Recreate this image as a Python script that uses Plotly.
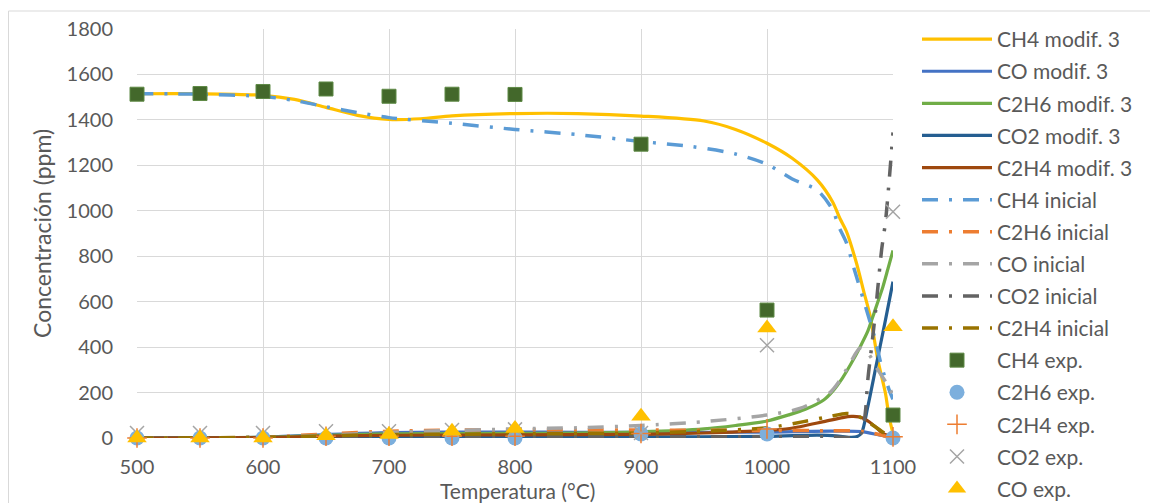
import plotly.graph_objects as go

# ---------------- data ----------------
# model curves "modif. 3"
T_ch4_m = [500, 550, 600, 625, 650, 675, 700, 725, 750, 800, 850, 900, 950, 975, 1000, 1020, 1040, 1052, 1058, 1063, 1071, 1077, 1082, 1088, 1094, 1097, 1100]
ch4_m   = [1515, 1515, 1508, 1490, 1455, 1420, 1402, 1405, 1418, 1428, 1428, 1417, 1395, 1358, 1297, 1231, 1135, 1040, 965, 910, 770, 640, 534, 343, 197, 90, 20]

T_co_m = [500, 550, 600, 650, 700, 750, 800, 850, 900, 950, 1000, 1050, 1075, 1090, 1100]
co_m   = [0, 1, 4, 15, 24, 26, 26, 25, 25, 25, 26, 30, 28, 12, 3]

T_c2h6_m = [500, 600, 650, 700, 800, 850, 900, 950, 975, 1000, 1018, 1030, 1045, 1052, 1060, 1067, 1074, 1080, 1084, 1088, 1092, 1096, 1100]
c2h6_m   = [0, 3, 12, 18, 20, 22, 27, 40, 55, 75, 103, 125, 167, 205, 265, 330, 402, 470, 534, 600, 666, 745, 825]

T_co2_m = [500, 600, 700, 800, 900, 1000, 1040, 1055, 1065, 1071, 1075, 1080, 1087, 1094, 1100]
co2_m   = [0, 1, 4, 5, 5, 7, 13, 10, 3, 5, 22, 138, 329, 519, 688]

T_c2h4_m = [500, 600, 650, 700, 800, 900, 950, 1000, 1018, 1045, 1060, 1067, 1073, 1079, 1086, 1092, 1100]
c2h4_m   = [0, 2, 8, 12, 14, 16, 22, 33, 42, 72, 90, 95, 93, 79, 50, 20, 5]

# initial model curves
T_ch4_i = [500, 550, 600, 625, 650, 675, 700, 750, 800, 850, 900, 940, 975, 1000, 1020, 1040, 1052, 1057, 1063, 1069, 1079, 1086, 1091, 1097, 1100]
ch4_i   = [1515, 1513, 1503, 1485, 1458, 1432, 1410, 1385, 1358, 1335, 1305, 1283, 1250, 1205, 1140, 1090, 1005, 930, 860, 747, 563, 431, 314, 211, 170]

T_c2h6_i = [500, 600, 650, 700, 750, 800, 850, 900, 950, 1000, 1050, 1075, 1085, 1100]
c2h6_i   = [0, 3, 18, 30, 35, 36, 36, 35, 34, 33, 32, 30, 20, 0]

T_co_i = [500, 600, 650, 700, 750, 800, 850, 900, 950, 1000, 1026, 1050, 1058, 1066, 1074, 1080, 1088, 1095, 1100]
co_i   = [0, 3, 12, 25, 33, 40, 45, 55, 72, 101, 130, 200, 255, 330, 396, 375, 300, 240, 190]

T_co2_i = [500, 600, 700, 800, 900, 1000, 1050, 1068, 1075, 1078, 1080, 1083, 1086, 1091, 1094, 1100]
co2_i   = [0, 2, 4, 5, 5, 5, 5, 3, 22, 110, 255, 400, 550, 830, 950, 1345]

T_c2h4_i = [500, 600, 650, 700, 800, 900, 950, 1000, 1029, 1050, 1063, 1070, 1082, 1095, 1100]
c2h4_i   = [0, 3, 10, 15, 18, 22, 30, 45, 72, 95, 108, 103, 64, 15, 5]

# experimental points
T_exp    = [500, 550, 600, 650, 700, 750, 800, 900, 1000, 1100]
ch4_exp  = [1513, 1516, 1525, 1536, 1504, 1513, 1512, 1293, 563, 101]
c2h6_exp = [0, 0, 0, 0, 0, 0, 0, 18, 18, 0]
c2h4_exp = [0, 0, 0, 8, 8, 8, 8, 20, 40, 5]
co2_exp  = [22, 22, 22, 30, 30, 35, 38, 22, 408, 996]
co_exp   = [0, 0, 0, 10, 15, 30, 42, 96, 484, 490]

x_ticks = [500, 600, 700, 800, 900, 1000, 1100]
y_ticks = [0, 200, 400, 600, 800, 1000, 1200, 1400, 1600, 1800]

# ---------------- figure ----------------
FONT = "Lato"
TXT = "#595959"
DASHDOT = "16px,11px,3px,11px"

fig = go.Figure()

def line(x, y, name, color, dash=None, width=3.2):
    fig.add_trace(go.Scatter(
        x=x, y=y, name=name, mode="lines", legendgroup=name,
        line=dict(color=color, width=width, dash=dash or "solid",
                  shape="spline", smoothing=0.8),
    ))

line(T_ch4_m, ch4_m, "CH4 modif. 3", "#FFC000")
line(T_co_m, co_m, "CO modif. 3", "#4472C4")
line(T_c2h6_m, c2h6_m, "C2H6 modif. 3", "#70AD47")
line(T_co2_m, co2_m, "CO2 modif. 3", "#255E91")
line(T_c2h4_m, c2h4_m, "C2H4 modif. 3", "#9E480E")
line(T_ch4_i, ch4_i, "CH4 inicial", "#5B9BD5", DASHDOT, 3.5)
line(T_c2h6_i, c2h6_i, "C2H6 inicial", "#ED7D31", DASHDOT, 3.5)
line(T_co_i, co_i, "CO inicial", "#A5A5A5", DASHDOT, 3.5)
line(T_co2_i, co2_i, "CO2 inicial", "#636363", DASHDOT, 3.5)
line(T_c2h4_i, c2h4_i, "C2H4 inicial", "#997300", DASHDOT, 3.5)

def pts(y, name, symbol, color, size, lw=0, lc=None):
    fig.add_trace(go.Scatter(
        x=T_exp, y=y, name=name, mode="markers", legendgroup=name,
        cliponaxis=False,
        marker=dict(symbol=symbol, color=color, size=size,
                    line=dict(width=lw, color=lc or color)),
    ))

pts(ch4_exp, "CH4 exp.", "square", "#43682B", 14, 1, "#5f8a46")
pts(c2h6_exp, "C2H6 exp.", "circle", "#7CAFDD", 15)
pts(c2h4_exp, "C2H4 exp.", "cross-thin", "#ED7D31", 14, 1.5, "#ED7D31")
pts(co2_exp, "CO2 exp.", "x-thin", "#A5A5A5", 14, 1.5, "#A5A5A5")
pts(co_exp, "CO exp.", "triangle-up", "#FFC000", 17)

# page has an 8px body margin; figure is laid out so the page coords match
OFF = 8
W, H = 1150, 495
L, T = 137 - OFF, 29 - OFF
pw, ph = 756, 409
R = W - L - pw
B = H - T - ph

def fx(page_x):
    return (page_x - OFF - L) / pw

def fy(page_y):
    return (H - B - (page_y - OFF)) / ph

fig.update_layout(
    width=W, height=H,
    margin=dict(l=L, r=R, t=T, b=B, autoexpand=False),
    paper_bgcolor="white", plot_bgcolor="white",
    font=dict(family=FONT, color=TXT, size=20),
    xaxis=dict(range=[500, 1100], tickvals=x_ticks, showgrid=True,
               gridcolor="#d9d9d9", gridwidth=1.3, zeroline=False,
               showline=False, ticks="", ticklabelstandoff=15,
               tickfont=dict(size=20, color=TXT, family=FONT)),
    yaxis=dict(range=[0, 1800], tickvals=y_ticks, showgrid=True,
               gridcolor="#d9d9d9", gridwidth=1.3, zeroline=False,
               showline=False, ticks="", ticklabelstandoff=23,
               tickfont=dict(size=20, color=TXT, family=FONT)),
    legend=dict(x=fx(917), xanchor="left", y=fy(19), yanchor="top",
                font=dict(size=21, color=TXT, family=FONT),
                itemwidth=70, tracegroupgap=1.8, maxheight=1000,
                bgcolor="rgba(0,0,0,0)", borderwidth=0),
    showlegend=True,
    annotations=[
        dict(text="Temperatura (°C)", xref="paper", yref="paper",
             x=fx(517), y=fy(490.5), xanchor="center", yanchor="middle",
             showarrow=False, font=dict(size=21, color=TXT, family=FONT)),
        dict(text="Concentración (ppm)", xref="paper", yref="paper",
             x=fx(42), y=fy(234), xanchor="center", yanchor="middle",
             textangle=-90, showarrow=False,
             font=dict(size=23, color=TXT, family=FONT)),
    ],
    shapes=[
        dict(type="rect", xref="paper", yref="paper", layer="below",
             x0=fx(8.5), x1=fx(1156), y0=fy(11), y1=fy(530),
             line=dict(color="#d9d9d9", width=1), fillcolor="rgba(0,0,0,0)"),
    ],
)

fig.write_html("out.html")
